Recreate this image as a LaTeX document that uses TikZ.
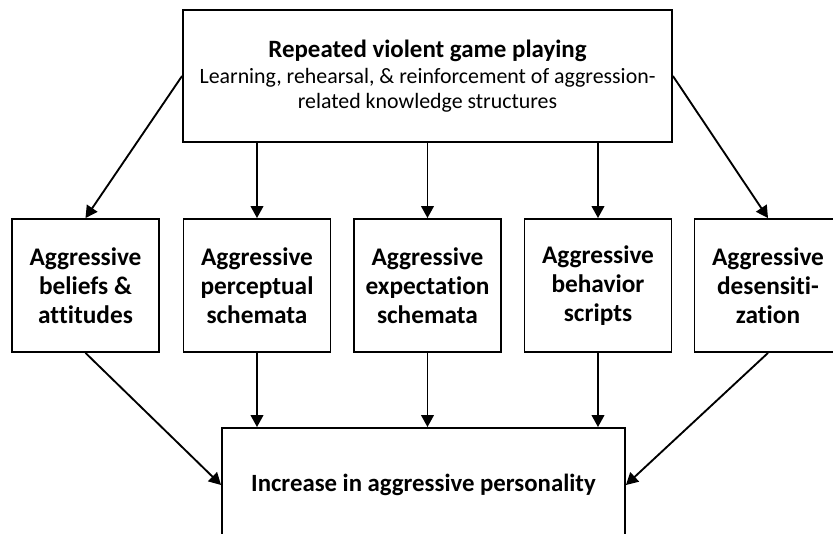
\documentclass[tikz,border=0pt]{standalone}
\usepackage{fontspec}
\setmainfont{Carlito}[Ligatures=CommonOff]
\usetikzlibrary{arrows.meta,positioning}
\tikzset{
  sourcebox/.style={draw,line width=1.4pt,align=center,inner sep=0pt,
    minimum width=366.75pt,minimum height=99pt,
    font=\fontsize{16.4}{18.75}\selectfont},
  schemabox/.style={draw,line width=1.4pt,align=center,inner sep=0pt,
    minimum width=110.25pt,minimum height=99.75pt,
    font=\fontsize{19}{21.75}\selectfont\bfseries},
  outcomebox/.style={draw,line width=1.4pt,align=center,inner sep=0pt,
    minimum width=302.25pt,minimum height=85.5pt,
    font=\fontsize{18.6}{22}\selectfont\bfseries},
  pathwayarrow/.style={-{Triangle[length=9pt,width=9.5pt]},line width=1.4pt}
}

\begin{document}
\begin{tikzpicture}[x=0.75pt,y=-0.75pt]
  \clip (0,0) rectangle (833,534);

  % source of the five routes
  \node[sourcebox] (play) at (427.5,76)
    {{\fontsize{18.7}{20}\selectfont\bfseries Repeated violent game playing}\\[1pt]
     Learning, rehearsal, \& reinforcement of aggression-\\
     related knowledge structures};

  % knowledge structures
  \node[schemabox] (beliefs) at (85.5,285.5) {Aggressive\\beliefs \&\\attitudes};
  \node[schemabox] (perceptual) at (257,285.5) {Aggressive\\perceptual\\schemata};
  \node[schemabox] (expectation) at (427.5,285.5) {Aggressive\\expectation\\schemata};
  \node[schemabox] (scripts) at (598,285.5) {Aggressive\\behavior\\scripts};
  \node[schemabox] (desens) at (768,285.5) {Aggressive\\desensiti-\\zation};

  % outcome
  \node[outcomebox] (increase) at (423.5,485) {Increase in aggressive personality};

  \draw[pathwayarrow] (play.west) -- (beliefs.north);
  \draw[pathwayarrow] (play.east) -- (desens.north);
  \foreach \k in {perceptual,expectation,scripts}
    \draw[pathwayarrow] (\k.north |- play.south) -- (\k.north);

  \draw[pathwayarrow] (beliefs.south) -- (increase.west);
  \draw[pathwayarrow] (desens.south) -- (increase.east);
  \foreach \k in {perceptual,expectation,scripts}
    \draw[pathwayarrow] (\k.south) -- (\k.south |- increase.north);
\end{tikzpicture}
\end{document}
